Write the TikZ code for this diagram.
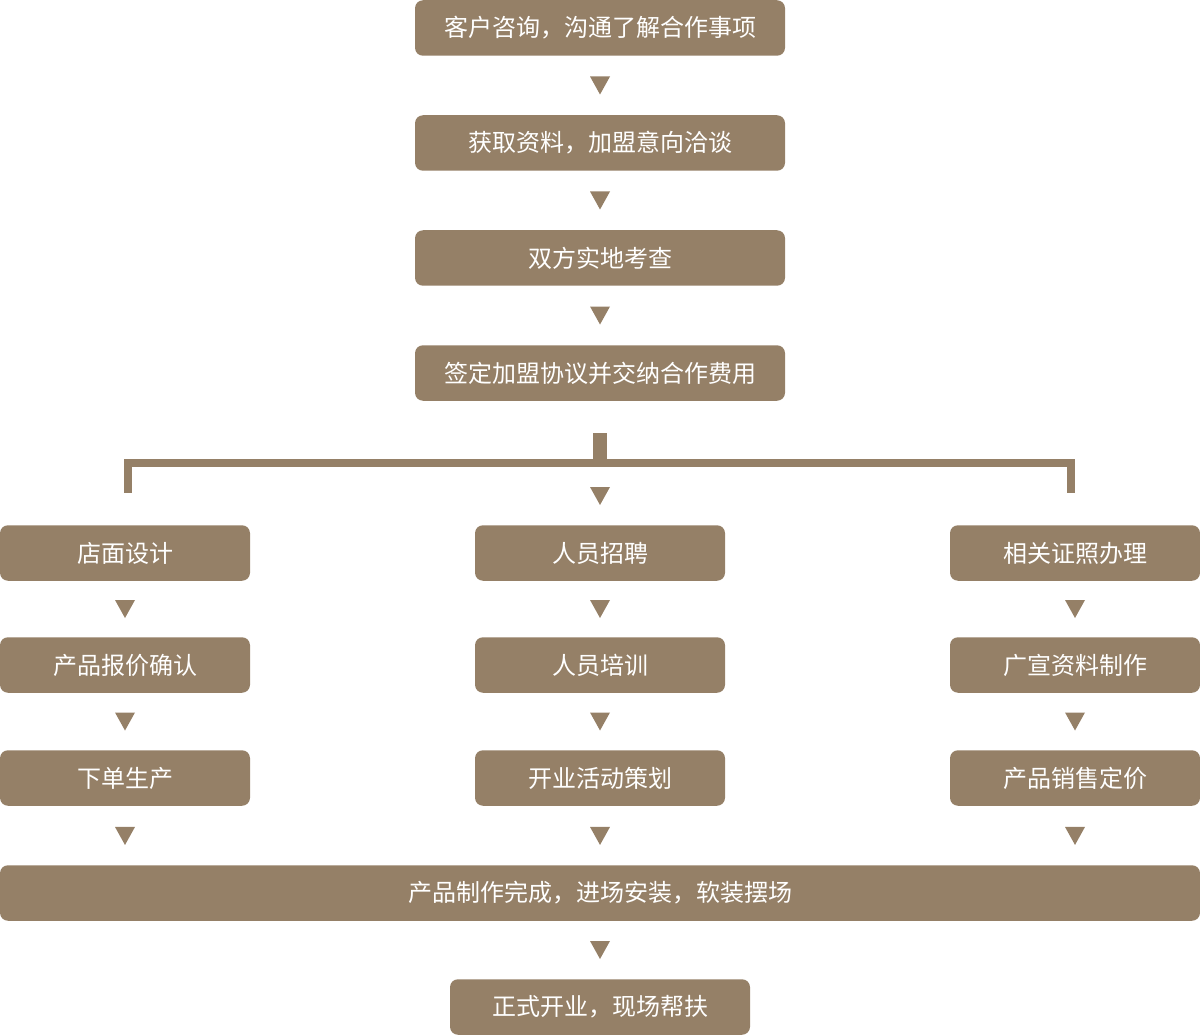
\documentclass[tikz,border=0pt]{standalone}
\usepackage{fontspec}
\setmainfont{Noto Sans CJK SC}
\usetikzlibrary{calc}
\definecolor{brn}{RGB}{149,128,103}
\newcommand\downtri[1]{\fill[brn] ($(#1)+(-10,-9)$) -- ($(#1)+(10,-9)$) -- ($(#1)+(0,9)$) -- cycle;}
\begin{document}
\begin{tikzpicture}[x=1pt,y=-1pt,
  box/.style={fill=brn, rounded corners=8pt, text=white, font=\fontsize{24}{28}\selectfont,
    inner sep=0pt, minimum height=55.5pt},
  wbox/.style={box, minimum width=370pt},
  sbox/.style={box, minimum width=250pt}]
\useasboundingbox (0,0) rectangle (1200,1035);
% main column
\node[wbox] (a1) at (600,28) {客户咨询，沟通了解合作事项};
\node[wbox] (a2) at (600,143) {获取资料，加盟意向洽谈};
\node[wbox] (a3) at (600,258) {双方实地考查};
\node[wbox] (a4) at (600,373) {签定加盟协议并交纳合作费用};
\downtri{$(a1.south)!0.5!(a2.north)$}
\downtri{$(a2.south)!0.5!(a3.north)$}
\downtri{$(a3.south)!0.5!(a4.north)$}
% bracket
\fill[brn] (593,433) rectangle (607,460);
\fill[brn] (124,459) rectangle (1075,467);
\fill[brn] (124,459) rectangle (132,493);
\fill[brn] (1067,459) rectangle (1075,493);
\coordinate (b0) at (600,496);
\downtri{b0}
% three columns
\node[sbox] (l1) at (125,553) {店面设计};
\node[sbox] (l2) at (125,665) {产品报价确认};
\node[sbox] (l3) at (125,778) {下单生产};
\node[sbox] (m1) at (600,553) {人员招聘};
\node[sbox] (m2) at (600,665) {人员培训};
\node[sbox] (m3) at (600,778) {开业活动策划};
\node[sbox] (r1) at (1075,553) {相关证照办理};
\node[sbox] (r2) at (1075,665) {广宣资料制作};
\node[sbox] (r3) at (1075,778) {产品销售定价};
\foreach \c in {l,m,r}{
  \downtri{$(\c1.south)!0.5!(\c2.north)$}
  \downtri{$(\c2.south)!0.5!(\c3.north)$}
}
% bottom
\node[box, minimum width=1200pt] (c1) at (600,893) {产品制作完成，进场安装，软装摆场};
\node[box, minimum width=300pt] (c2) at (600,1007) {正式开业，现场帮扶};
\foreach \c in {l,m,r}{
  \downtri{$(\c3.south)+(0,30)$}
}
\downtri{$(c1.south)!0.5!(c2.north)$}
\end{tikzpicture}
\end{document}
